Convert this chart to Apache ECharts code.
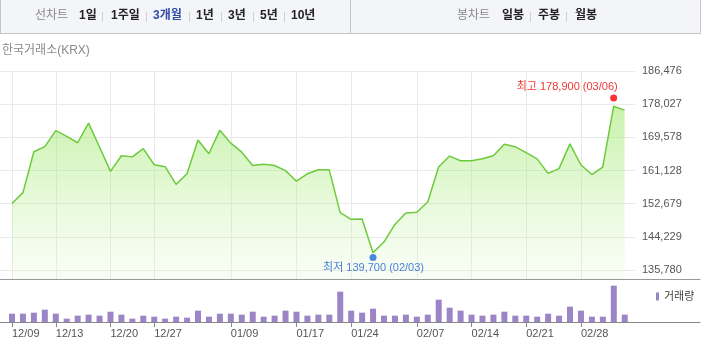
<!DOCTYPE html>
<html><head><meta charset="utf-8">
<script src="https://cdn.jsdelivr.net/npm/echarts@6/dist/echarts.min.js"></script>
<style>html,body{margin:0;padding:0;background:#fff}#c{width:701px;height:360px}</style>
</head><body><div id="c"></div>
<script>
const dates = ['12/09','12/10','12/11','12/12','12/13','12/16','12/17','12/18','12/19','12/20','12/23','12/24','12/26','12/27','12/30','01/02','01/03','01/06','01/07','01/08','01/09','01/10','01/13','01/14','01/15','01/16','01/17','01/20','01/21','01/22','01/23','01/24','01/31','02/03','02/04','02/05','02/06','02/07','02/10','02/11','02/12','02/13','02/14','02/17','02/18','02/19','02/20','02/21','02/24','02/25','02/26','02/27','02/28','03/04','03/05','03/06','03/07'];
const closePrice = [152700,155500,165900,167200,171300,169800,168200,173200,167100,160900,164900,164600,166700,162600,162100,157600,160300,168900,165400,171400,168100,165800,162400,162700,162400,161100,158400,160300,161300,161300,150400,148700,148800,140200,142900,147400,150300,150500,153100,162000,164800,163600,163600,164100,164900,167800,167200,165700,164100,160400,161600,167900,162600,160100,162000,177500,176500];
const volume = [25,25,28,37,25,10,19,22,19,31,22,10,19,16,10,16,13,34,16,25,25,22,31,16,19,34,31,19,22,22,91,34,28,40,19,19,22,16,22,67,43,34,22,19,22,31,19,19,16,25,19,46,34,16,16,109,22];
const xTickDates = ['12/09','12/13','12/20','12/27','01/09','01/17','01/24','02/07','02/14','02/21','02/28'];
const yTicks = [135780,144229,152679,161128,169578,178027,186476];
const highPoint = {date:'03/06', value:178900};
const lowPoint = {date:'02/03', value:139700};

const FONT = '"Liberation Sans", "Noto Sans CJK KR", sans-serif';
const fmt = v => String(Math.round(v)).replace(/\B(?=(\d{3})+(?!\d))/g, ',');
const xTickIdx = xTickDates.map(d => dates.indexOf(d));
const hiIdx = dates.indexOf(highPoint.date), loIdx = dates.indexOf(lowPoint.date);

const X_MIN = -1.097, X_MAX_MAIN = 56.95, X_MAX_VOL = 62.88;

const chart = echarts.init(document.getElementById('c'), null, {renderer:'canvas'});

function topText(x, t, style) {
  return {type:'text', left:x, top:10, style:Object.assign({text:t, font:'bold 12px ' + FONT, fill:'#222'}, style||{})};
}
function sep(x) {
  return {type:'line', shape:{x1:x+0.5, y1:12, x2:x+0.5, y2:22}, style:{stroke:'#d0d0d0', lineWidth:1}};
}

const graphics = [
  {type:'rect', shape:{x:0, y:0, width:701, height:33}, style:{fill:'#f4f5f8'}},
  {type:'line', shape:{x1:0, y1:33.5, x2:701, y2:33.5}, style:{stroke:'#c6c6c6'}},
  {type:'line', shape:{x1:0.5, y1:0, x2:0.5, y2:33}, style:{stroke:'#c6c6c6'}},
  {type:'line', shape:{x1:350.5, y1:0, x2:350.5, y2:33}, style:{stroke:'#c6c6c6'}},
  {type:'line', shape:{x1:700.5, y1:0, x2:700.5, y2:33}, style:{stroke:'#c6c6c6'}},
  topText(35, '선차트', {font:'12px ' + FONT, fill:'#8a8a8a'}),
  topText(79, '1일'), sep(102),
  topText(111, '1주일'), sep(146),
  topText(153, '3개월', {fill:'#2f4ba6'}), sep(189),
  topText(196, '1년'), sep(221),
  topText(228, '3년'), sep(253),
  topText(260, '5년'), sep(284),
  topText(291, '10년'),
  topText(457, '봉차트', {font:'12px ' + FONT, fill:'#8a8a8a'}),
  topText(502, '일봉'), sep(530),
  topText(538, '주봉'), sep(566),
  topText(575, '월봉'),
  {type:'text', left:2, top:45, style:{text:'한국거래소(KRX)', font:'12px ' + FONT, fill:'#8a8a8a'}}
];

chart.setOption({
  animation:false,
  textStyle:{fontFamily:FONT},
  graphic:graphics,
  legend:{data:['거래량'], left:651, top:286, itemWidth:3, itemHeight:8, icon:'rect', textStyle:{fontSize:11, color:'#444', fontFamily:FONT}},
  grid:[
    {left:0, top:71, width:635, height:208},
    {left:0, top:279, width:700, height:43}
  ],
  xAxis:[
    {type:'value', gridIndex:0, min:X_MIN, max:X_MAX_MAIN, axisLine:{show:false}, axisTick:{show:false, customValues:xTickIdx}, axisLabel:{show:false, customValues:xTickIdx},
     splitLine:{show:true, customValues:xTickIdx, lineStyle:{color:'#e9e9e9', width:1}}},
    {type:'value', gridIndex:1, min:X_MIN, max:X_MAX_VOL, position:'bottom',
     axisLine:{show:true, lineStyle:{color:'#888', width:1}},
     axisTick:{show:true, customValues:xTickIdx, length:5, lineStyle:{color:'#888'}},
     axisLabel:{show:true, customValues:xTickIdx, align:'left', margin:6, fontSize:11, color:'#555', formatter:v => dates[Math.round(v)]},
     splitLine:{show:false}},
    {type:'value', gridIndex:1, min:X_MIN, max:X_MAX_VOL, position:'top',
     axisLine:{show:true, lineStyle:{color:'#999', width:1}}, axisTick:{show:false}, axisLabel:{show:false}, splitLine:{show:false}}
  ],
  yAxis:[
    {type:'value', gridIndex:0, position:'right', min:133490, max:186476,
     axisLine:{show:false}, axisTick:{show:false, customValues:yTicks},
     axisLabel:{customValues:yTicks, margin:7, fontSize:11, color:'#555', formatter:v => fmt(v)},
     splitLine:{show:true, customValues:yTicks, lineStyle:{color:'#e9e9e9', width:1}}},
    {type:'value', gridIndex:1, min:0, max:129, show:false, splitLine:{show:false}}
  ],
  series:[
    {type:'line', name:'종가', xAxisIndex:0, yAxisIndex:0, data:closePrice.map((v,i)=>[i,v]), symbol:'none',
     lineStyle:{color:'#6ccb3b', width:1.5},
     areaStyle:{color:new echarts.graphic.LinearGradient(0,0,0,1,[{offset:0,color:'rgba(140,226,80,0.68)'},{offset:0.5,color:'rgba(170,236,125,0.45)'},{offset:1,color:'rgba(225,248,210,0.3)'}])}},
    {type:'scatter', xAxisIndex:0, yAxisIndex:0, data:[[hiIdx, highPoint.value]], symbolSize:7, symbolOffset:[0,-2.7],
     itemStyle:{color:'#ff0000'}, z:5,
     label:{show:true, position:[7.5,-7.3], align:'right', verticalAlign:'middle', fontSize:11, color:'#ee0000',
       formatter:'최고 ' + fmt(highPoint.value) + ' (' + highPoint.date + ')'}},
    {type:'scatter', xAxisIndex:0, yAxisIndex:0, data:[[loIdx, lowPoint.value]], symbolSize:7, symbolOffset:[0,2.8],
     itemStyle:{color:'#1e6bdc'}, z:5,
     label:{show:true, position:[4,14.2], align:'center', verticalAlign:'middle', fontSize:11, color:'#1d5fd0',
       formatter:'최저 ' + fmt(lowPoint.value) + ' (' + lowPoint.date + ')'}},
    {type:'bar', name:'거래량', xAxisIndex:1, yAxisIndex:1, data:volume.map((v,i)=>[i,v]), barWidth:6,
     itemStyle:{color:'#9b85c6'}}
  ]
});
</script></body></html>
